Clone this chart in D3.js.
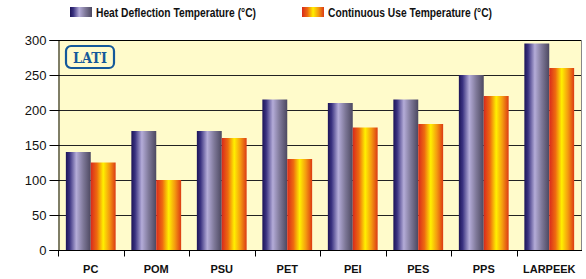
<!DOCTYPE html>
<html>
<head>
<meta charset="utf-8">
<script src="https://cdn.jsdelivr.net/npm/d3@7"></script>
<style>
  html, body { margin: 0; padding: 0; background: #fff; }
  svg { display: block; font-family: "Liberation Sans", Arial, sans-serif; }
</style>
</head>
<body>
<div id="chart"></div>
<script>
// Heat deflection vs continuous use temperature per polymer family
const categories = ['PC', 'POM', 'PSU', 'PET', 'PEI', 'PES', 'PPS', 'LARPEEK'];
const seriesNames = ['Heat Deflection Temperature (°C)', 'Continuous Use Temperature (°C)'];
const heatDeflection = [140, 170, 170, 215, 210, 215, 250, 295];
const continuousUse = [125, 100, 160, 130, 175, 180, 220, 260];
const yTicks = [0, 50, 100, 150, 200, 250, 300];

const width = 586, height = 279;
const margin = { top: 40, right: 4, bottom: 29, left: 58 };

const svg = d3.select('#chart').append('svg')
  .attr('width', width)
  .attr('height', height);

const defs = svg.append('defs');

function gradient(id, stops) {
  const g = defs.append('linearGradient').attr('id', id)
    .attr('x1', '0%').attr('x2', '100%').attr('y1', '0%').attr('y2', '0%');
  stops.forEach(([o, c]) => g.append('stop').attr('offset', o).attr('stop-color', c));
}
gradient('gHeat', [['0%', '#1c1458'], ['15%', '#3a3280'], ['42%', '#b4acd8'], ['70%', '#7e7898'], ['100%', '#4c4860']]);
gradient('gCont', [['0%', '#d82a1c'], ['25%', '#ee6a10'], ['50%', '#fff000'], ['75%', '#f49a10'], ['100%', '#dc3a14']]);

const x = d3.scaleBand()
  .domain(categories)
  .range([margin.left, width - margin.right])
  .paddingInner(0.24)
  .paddingOuter(0.12);
// boundaries of each category slot for ticks
const slot = d3.scaleBand().domain(categories).range([margin.left, width - margin.right]);
const xs = d3.scaleBand().domain([0, 1]).range([0, x.bandwidth()]);

const y = d3.scaleLinear().domain([0, 300]).range([height - margin.bottom, margin.top]);

// plot background
svg.append('rect')
  .attr('x', margin.left).attr('y', margin.top)
  .attr('width', width - margin.right - margin.left)
  .attr('height', height - margin.bottom - margin.top)
  .attr('fill', '#fffbcb');

// grid lines
svg.append('g')
  .selectAll('line')
  .data(yTicks.filter(d => d > 0 && d < 300))
  .join('line')
  .attr('x1', margin.left).attr('x2', width - margin.right)
  .attr('y1', d => Math.round(y(d)) + 0.5).attr('y2', d => Math.round(y(d)) + 0.5)
  .attr('stroke', '#222').attr('stroke-width', 1.2);

// bars
const data = categories.map((c, i) => ({ cat: c, vals: [heatDeflection[i], continuousUse[i]] }));
svg.append('g')
  .selectAll('g')
  .data(data)
  .join('g')
  .attr('transform', d => `translate(${x(d.cat)},0)`)
  .selectAll('rect')
  .data(d => d.vals.map((v, k) => ({ v, k })))
  .join('rect')
  .attr('x', d => xs(d.k))
  .attr('width', xs.bandwidth())
  .attr('y', d => y(d.v))
  .attr('height', d => y(0) - y(d.v))
  .attr('fill', d => d.k === 0 ? 'url(#gHeat)' : 'url(#gCont)');

// plot border: top, right
svg.append('line')
  .attr('x1', margin.left).attr('x2', width - margin.right)
  .attr('y1', margin.top + 0.5).attr('y2', margin.top + 0.5)
  .attr('stroke', '#000');
svg.append('line')
  .attr('x1', width - margin.right - 0.5).attr('x2', width - margin.right - 0.5)
  .attr('y1', margin.top).attr('y2', height - margin.bottom)
  .attr('stroke', '#888');

// y axis
const yAxis = svg.append('g')
  .attr('transform', `translate(${margin.left + 0.5},0)`)
  .call(d3.axisLeft(y).tickValues(yTicks).tickSize(9).tickPadding(3));
yAxis.select('.domain').attr('stroke', '#000');
yAxis.selectAll('.tick line').attr('stroke', '#000');
yAxis.selectAll('text')
  .attr('font-size', 13)
  .attr('font-family', '"Liberation Sans", Arial, sans-serif')
  .attr('fill', '#111');

// x axis
const xAxis = svg.append('g')
  .attr('transform', `translate(0,${y(0) + 0.5})`);
xAxis.append('line')
  .attr('x1', margin.left).attr('x2', width - margin.right)
  .attr('stroke', '#000');
xAxis.selectAll('line.tk')
  .data(categories)
  .join('line')
  .attr('class', 'tk')
  .attr('x1', d => Math.round(slot(d)) + 0.5).attr('x2', d => Math.round(slot(d)) + 0.5)
  .attr('y1', 0).attr('y2', 6)
  .attr('stroke', '#000');
xAxis.selectAll('text')
  .data(categories)
  .join('text')
  .attr('x', d => slot(d) + slot.bandwidth() / 2)
  .attr('y', 22)
  .attr('text-anchor', 'middle')
  .attr('font-size', 11)
  .attr('font-weight', 'bold')
  .attr('fill', '#111')
  .text(d => d);

// legend
const legendX = [70, 302];
const legendW = [160, 164];
const legend = svg.append('g');
seriesNames.forEach((name, k) => {
  legend.append('rect')
    .attr('x', legendX[k]).attr('y', 7)
    .attr('width', 22).attr('height', 10)
    .attr('fill', k === 0 ? 'url(#gHeat)' : 'url(#gCont)');
  legend.append('text')
    .attr('x', legendX[k] + 26).attr('y', 17)
    .attr('font-size', 12.5)
    .attr('font-weight', 'bold')
    .attr('fill', '#111')
    .attr('textLength', legendW[k])
    .attr('lengthAdjust', 'spacingAndGlyphs')
    .text(name);
});

// LATI logo
const logo = svg.append('g').attr('transform', 'translate(66,46)');
logo.append('rect')
  .attr('width', 48).attr('height', 22)
  .attr('rx', 5)
  .attr('fill', '#fffbcb')
  .attr('stroke', '#14599a')
  .attr('stroke-width', 2.2);
logo.append('text')
  .attr('x', 24).attr('y', 16.5)
  .attr('text-anchor', 'middle')
  .attr('font-family', '"DejaVu Serif", serif')
  .attr('font-weight', 'bold')
  .attr('font-size', 14)
  .attr('fill', '#14599a')
  .attr('textLength', 34)
  .attr('lengthAdjust', 'spacingAndGlyphs')
  .text('LATI');
</script>
</body>
</html>
